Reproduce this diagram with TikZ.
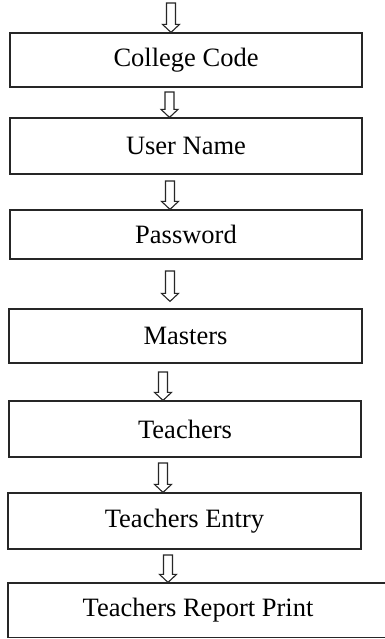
\documentclass[tikz,border=0pt]{standalone}
\usepackage{fontspec}
\setmainfont{Liberation Serif}
\usetikzlibrary{calc}
\tikzset{
  box/.style={draw=black!85, line width=1.2pt, rectangle, inner sep=0pt,
    font=\fontsize{26.5}{30}\selectfont},
  arr/.style={draw=black!85, line width=1.1pt, fill=white, line join=miter}
}
\newcommand\blockarrow[2]{%
  \draw[arr] ($(#1)+(-4.5,0)$) -- ($(#2)+(-4.5,-8)$) -- ($(#2)+(-8.5,-8)$) -- (#2)
    -- ($(#2)+(8.5,-8)$) -- ($(#2)+(4.5,-8)$) -- ($(#1)+(4.5,0)$) -- cycle;}
\begin{document}
\begin{tikzpicture}[x=1pt,y=-1pt]
\useasboundingbox[fill=white] (0,0) rectangle (385,639);
\node[box, minimum width=352pt, minimum height=54pt] (b1) at (186,60) {College Code};
\node[box, minimum width=352pt, minimum height=56pt] (b2) at (186,146) {User Name};
\node[box, minimum width=352pt, minimum height=49pt] (b3) at (186,234.5) {Password};
\node[box, minimum width=353pt, minimum height=54pt] (b4) at (185.5,336) {Masters};
\node[box, minimum width=352pt, minimum height=56pt] (b5) at (185,429) {Teachers};
\node[box, minimum width=353pt, minimum height=56pt] (b6) at (184.5,521) {Teachers Entry};
\node[box, minimum width=386pt, minimum height=54.5pt] (b7) at (201,610.25) {\hspace*{-6pt}Teachers Report Print};
% arrows
\coordinate (p0) at (171,3);   \coordinate (q0) at (p0 |- b1.north);
\coordinate (p1) at (169.5,92); \coordinate (q1) at (p1 |- b2.north);
\coordinate (p2) at (170,181); \coordinate (q2) at (p2 |- b3.north);
\coordinate (p3) at (170,271); \coordinate (q3) at ($(p3 |- b4.north)+(0,-7)$);
\coordinate (p4) at (163,372); \coordinate (q4) at (p4 |- b5.north);
\coordinate (p5) at (163,463); \coordinate (q5) at (p5 |- b6.north);
\coordinate (p6) at (168,555); \coordinate (q6) at (p6 |- b7.north);
\blockarrow{p0}{q0}
\blockarrow{p1}{q1}
\blockarrow{p2}{q2}
\blockarrow{p3}{q3}
\blockarrow{p4}{q4}
\blockarrow{p5}{q5}
\blockarrow{p6}{q6}
\end{tikzpicture}
\end{document}
